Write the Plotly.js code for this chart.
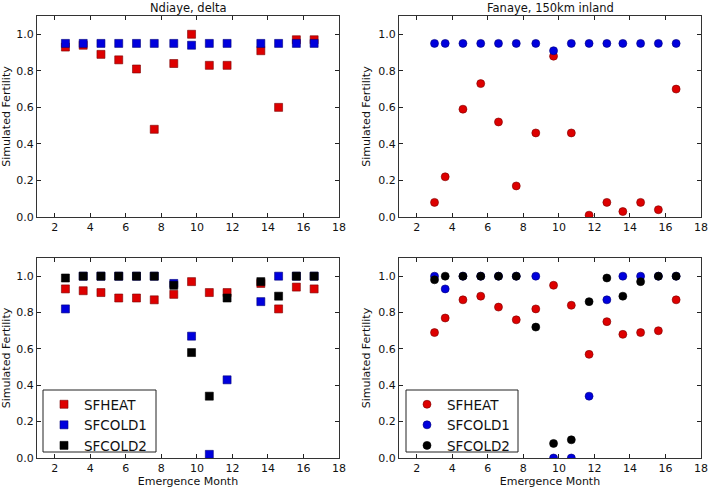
<!DOCTYPE html>
<html>
<head>
<meta charset="utf-8">
<script src="https://cdn.plot.ly/plotly-3.0.1.min.js"></script>
<style>
  body { margin: 0; padding: 0; background: #fff; }
  #plot { width: 710px; height: 488px; }
</style>
</head>
<body>
<div id="plot"></div>
<script>
// emergence months (delta site has no point near 12.6)
var monthsDelta = [2.6, 3.6, 4.6, 5.6, 6.6, 7.6, 8.7, 9.7, 10.7, 11.7, 13.6, 14.6, 15.6, 16.6];
var monthsInland = [3.0, 3.6, 4.6, 5.6, 6.6, 7.6, 8.7, 9.7, 10.7, 11.7, 12.7, 13.6, 14.6, 15.6, 16.6];

// Ndiaye, delta - top row
var deltaTopHeat = [0.93, 0.94, 0.89, 0.86, 0.81, 0.48, 0.84, 1.00, 0.83, 0.83, 0.91, 0.60, 0.97, 0.97];
var deltaTopCold1 = [0.95, 0.95, 0.95, 0.95, 0.95, 0.95, 0.95, 0.94, 0.95, 0.95, 0.95, 0.95, 0.95, 0.95];

// Fanaye, 150km inland - top row
var inlandTopHeat = [0.08, 0.22, 0.59, 0.73, 0.52, 0.17, 0.46, 0.88, 0.46, 0.01, 0.08, 0.03, 0.08, 0.04, 0.70];
var inlandTopCold1 = [0.95, 0.95, 0.95, 0.95, 0.95, 0.95, 0.95, 0.91, 0.95, 0.95, 0.95, 0.95, 0.95, 0.95, 0.95];

// Ndiaye, delta - bottom row
var deltaHeat = [0.93, 0.92, 0.91, 0.88, 0.88, 0.87, 0.90, 0.97, 0.91, 0.91, 0.96, 0.82, 0.94, 0.93];
var deltaCold1 = [0.82, 1.00, 1.00, 1.00, 1.00, 1.00, 0.96, 0.67, 0.02, 0.43, 0.86, 1.00, 1.00, 1.00];
var deltaCold2 = [0.99, 1.00, 1.00, 1.00, 1.00, 1.00, 0.95, 0.58, 0.34, 0.88, 0.97, 0.89, 1.00, 1.00];

// Fanaye, 150km inland - bottom row
var inlandHeat = [0.69, 0.77, 0.87, 0.89, 0.83, 0.76, 0.82, 0.95, 0.84, 0.57, 0.75, 0.68, 0.69, 0.70, 0.87];
var inlandCold1 = [1.00, 0.93, 1.00, 1.00, 1.00, 1.00, 1.00, 0.00, 0.00, 0.34, 0.87, 1.00, 1.00, 1.00, 1.00];
var inlandCold2 = [0.98, 1.00, 1.00, 1.00, 1.00, 1.00, 0.72, 0.08, 0.10, 0.86, 0.99, 0.89, 0.97, 1.00, 1.00];

var seriesNames = ["SFHEAT", "SFCOLD1", "SFCOLD2"];
var panelTitles = ["Ndiaye, delta", "Fanaye, 150km inland"];

var fills = ["#dd0000", "#0000dd", "#000000"];
var edges = ["#7a0000", "#00007a", "#000000"];

function pts(x, y, i, sym, xa, ya, leg, show) {
    return {
        x: x,
        y: y,
        name: seriesNames[i],
        mode: "markers",
        type: "scatter",
        xaxis: xa,
        yaxis: ya,
        legend: leg,
        showlegend: show,
        marker: {
            symbol: sym,
            size: 8,
            color: fills[i],
            line: {color: edges[i], width: 0.6}
        }
    };
}

var plotData = [
    pts(monthsDelta, deltaTopHeat, 0, "square", "x", "y", "legend", false),
    pts(monthsDelta, deltaTopCold1, 1, "square", "x", "y", "legend", false),
    pts(monthsInland, inlandTopHeat, 0, "circle", "x2", "y2", "legend", false),
    pts(monthsInland, inlandTopCold1, 1, "circle", "x2", "y2", "legend", false),
    pts(monthsDelta, deltaHeat, 0, "square", "x3", "y3", "legend", true),
    pts(monthsDelta, deltaCold1, 1, "square", "x3", "y3", "legend", true),
    pts(monthsDelta, deltaCold2, 2, "square", "x3", "y3", "legend", true),
    pts(monthsInland, inlandHeat, 0, "circle", "x4", "y4", "legend2", true),
    pts(monthsInland, inlandCold1, 1, "circle", "x4", "y4", "legend2", true),
    pts(monthsInland, inlandCold2, 2, "circle", "x4", "y4", "legend2", true)
];

// shared axis look, matplotlib style box with inward ticks
function xax(dom, anchor, withTitle) {
    var a = {
        domain: dom, anchor: anchor, range: [1, 18],
        tickvals: [2, 4, 6, 8, 10, 12, 14, 16, 18],
        ticks: "inside", ticklen: 4, tickcolor: "#222",
        showline: true, linecolor: "#333", linewidth: 1, mirror: "ticks",
        showgrid: false, zeroline: false,
        tickfont: {size: 11, color: "#111"}
    };
    if (withTitle) a.title = {text: "Emergence Month", font: {size: 11, color: "#111"}, standoff: 3};
    return a;
}
function yax(dom, anchor) {
    return {
        domain: dom, anchor: anchor, range: [0, 1.1],
        tickvals: [0, 0.2, 0.4, 0.6, 0.8, 1.0], tickformat: ".1f",
        ticks: "inside", ticklen: 4, tickcolor: "#222",
        showline: true, linecolor: "#333", linewidth: 1, mirror: "ticks",
        showgrid: false, zeroline: false,
        tickfont: {size: 11, color: "#111"},
        title: {text: "Simulated Fertility", font: {size: 11, color: "#111"}, standoff: 5}
    };
}

var colLeft = [37 / 710, 339 / 710];
var colRight = [399 / 710, 701 / 710];
var rowTop = [1 - 217 / 488, 1 - 16 / 488];
var rowBottom = [1 - 458 / 488, 1 - 258 / 488];

// legend frame drawn as a shape so it can hug the entries like matplotlib's
var legendBoxes = [[43, 156], [406, 518]];
var legendTop = 390, legendBottom = 452;

var legendLook = {
    xanchor: "left", yanchor: "bottom", y: 1 - 461 / 488,
    bgcolor: "rgba(0,0,0,0)", borderwidth: 0,
    font: {size: 13.5, color: "#111"}
};

var layout = {
    width: 710,
    height: 488,
    margin: {l: 0, r: 0, t: 0, b: 0},
    paper_bgcolor: "#fff",
    plot_bgcolor: "#fff",
    font: {family: "DejaVu Sans", color: "#111"},
    xaxis: xax(colLeft, "y", false),
    yaxis: yax(rowTop, "x"),
    xaxis2: xax(colRight, "y2", false),
    yaxis2: yax(rowTop, "x2"),
    xaxis3: xax(colLeft, "y3", true),
    yaxis3: yax(rowBottom, "x3"),
    xaxis4: xax(colRight, "y4", true),
    yaxis4: yax(rowBottom, "x4"),
    legend: Object.assign({x: 44 / 710}, legendLook),
    legend2: Object.assign({x: 407 / 710}, legendLook),
    shapes: legendBoxes.map(b => {
        return {
            type: "rect", xref: "paper", yref: "paper", layer: "above",
            x0: b[0] / 710, x1: b[1] / 710,
            y0: 1 - legendBottom / 488, y1: 1 - legendTop / 488,
            fillcolor: "#fff", line: {color: "#222", width: 1}
        };
    }),
    annotations: [
        {text: panelTitles[0], x: 188 / 710, y: 1 - 8 / 488, xref: "paper", yref: "paper",
         xanchor: "center", yanchor: "middle", showarrow: false, font: {size: 11.5, color: "#111"}},
        {text: panelTitles[1], x: 550 / 710, y: 1 - 8 / 488, xref: "paper", yref: "paper",
         xanchor: "center", yanchor: "middle", showarrow: false, font: {size: 11.5, color: "#111"}}
    ]
};

Plotly.newPlot("plot", plotData, layout, {displayModeBar: false});
</script>
</body>
</html>
